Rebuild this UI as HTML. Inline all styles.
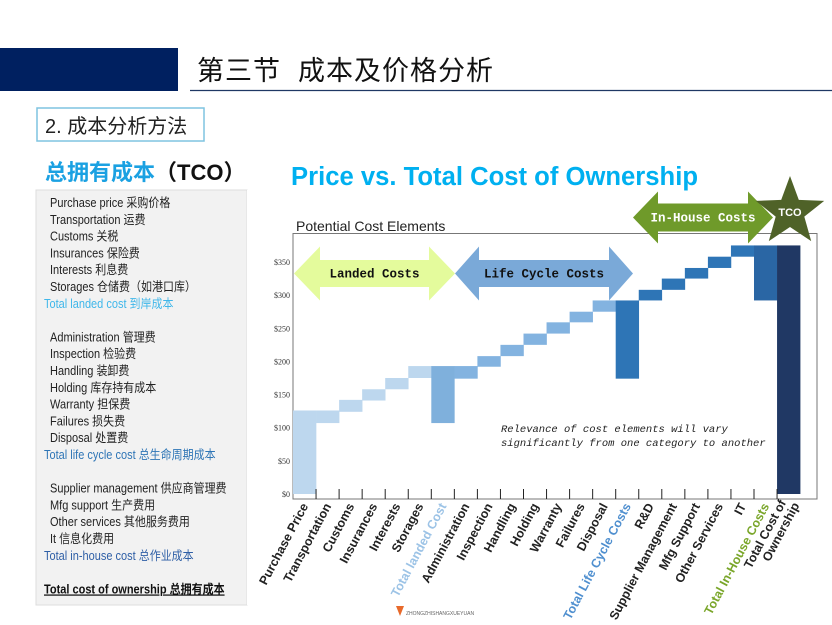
<!DOCTYPE html>
<html><head><meta charset="utf-8">
<style>
html,body{margin:0;padding:0;background:#fff;width:832px;height:625px;overflow:hidden}
svg{display:block}
.cn{font-family:"Liberation Sans","Noto Sans CJK SC",sans-serif}
.nar{font-family:"Liberation Sans Narrow","Liberation Sans","Noto Sans CJK SC",sans-serif}
.mono{font-family:"Liberation Mono",monospace}
</style></head>
<body>
<svg id="page" width="832" height="625" viewBox="0 0 832 625" xmlns="http://www.w3.org/2000/svg">
  <rect x="0" y="48" width="178" height="43" fill="#002060"/>
  <text class="cn" x="197" y="80" font-size="27" fill="#111" textLength="296" lengthAdjust="spacing" xml:space="preserve">第三节  成本及价格分析</text>
  <line x1="190" y1="90.5" x2="832" y2="90.5" stroke="#1f3864" stroke-width="1.2"/>
  <rect x="37" y="108" width="167" height="33" fill="#fff" stroke="#7fc4e0" stroke-width="1.5"/>
  <text class="cn" x="45" y="133" font-size="20" fill="#222">2. 成本分析方法</text>
  <text class="cn" x="45" y="180" font-size="22" font-weight="bold" fill="#1ba1e2">总拥有成本<tspan fill="#111">（TCO）</tspan></text>
  <rect x="36" y="190" width="211" height="415" fill="#f2f2f2" stroke="#ddd"/>
  <g id="list" class="nar" font-size="12.5"></g>
  <rect x="247" y="190" width="585" height="415" fill="#fff"/>
  <text class="cn" x="291" y="185" font-size="25.5" font-weight="bold" fill="#00b0f0" textLength="407" lengthAdjust="spacingAndGlyphs">Price vs. Total Cost of Ownership</text>
  <text class="cn" x="296" y="231" font-size="14" fill="#222">Potential Cost Elements</text>
  <rect x="293" y="233.5" width="524" height="265.5" fill="#fff" stroke="#777" stroke-width="1"/>
  <g id="bars"></g>
  <g id="yaxis"></g>
  <g id="xaxis"></g>
  <g id="overlay"></g>
  <text class="mono" font-style="italic" font-size="10.5" fill="#222"><tspan x="501" y="432">Relevance of cost elements will vary</tspan><tspan x="501" y="446">significantly from one category to another</tspan></text>
  <text class="cn" x="406" y="615" font-size="5" fill="#666">ZHONGZHISHANGXUEYUAN</text>
  <path d="M396 606 L404 606 L400 616 Z" fill="#e86a2b"/>
</svg>
<script>
const categories=["Purchase Price","Transportation","Customs","Insurances","Interests","Storages","Total landed Cost","Administration","Inspection","Handling","Holding","Warranty","Failures","Disposal","Total Life Cycle Costs","R&D","Supplier Management","Mfg Support","Other Services","IT","Total In-House Costs","Total Cost of Ownership"];
const lowValues=[0,107,124,141,158,175,107,174,192,208,225,242,259,275,174,292,308,325,341,358,292,0];
const highValues=[126,126,142,158,175,193,193,193,208,225,242,259,275,292,292,308,325,341,358,375,375,375];
const yTicks=[0,50,100,150,200,250,300,350];
const yTickLabels=["$0","$50","$100","$150","$200","$250","$300","$350"];
const listItems=[["Purchase price 采购价格","#222",1],["Transportation  运费","#222",1],["Customs 关税","#222",1],["Insurances 保险费","#222",1],["Interests 利息费","#222",1],["Storages 仓储费（如港口库）","#222",1],["Total landed cost 到岸成本","#3fb7ea",0],["","",0],["Administration 管理费","#222",1],["Inspection 检验费","#222",1],["Handling 装卸费","#222",1],["Holding 库存持有成本","#222",1],["Warranty 担保费","#222",1],["Failures  损失费","#222",1],["Disposal  处置费","#222",1],["Total life cycle cost 总生命周期成本","#2e75b6",0],["","",0],["Supplier management 供应商管理费","#222",1],["Mfg support 生产费用","#222",1],["Other services 其他服务费用","#222",1],["It 信息化费用","#222",1],["Total in-house cost 总作业成本","#2e5fa6",0],["","",0],["Total cost of ownership 总拥有成本","#111",0]];
const NS="http://www.w3.org/2000/svg";
function mk(t,a,p){const e=document.createElementNS(NS,t);for(const k in a)e.setAttribute(k,a[k]);p.appendChild(e);return e;}
const X0=293,CW=23.05,Y0=494,PPD=232/350;
const xs=i=>X0+i*CW;
const ys=v=>Y0-v*PPD;
function barColor(i){
  if(i===21)return "#203864";
  if(i===20)return "#2a66a4";
  if(i===14)return "#2e75b6";
  if(i===6)return "#7fb0dc";
  if(i>=15)return "#2e75b6";
  if(i>=7)return "#83b3e0";
  return "#bdd7ee";
}
const bars=document.getElementById('bars');
categories.forEach((c,i)=>{
  const r=mk('rect',{x:xs(i),y:ys(highValues[i]),width:CW+0.3,height:ys(lowValues[i])-ys(highValues[i]),fill:barColor(i)},bars);
  
  
});
const ya=document.getElementById('yaxis');
yTicks.forEach((t,i)=>{
  const tx=mk('text',{x:290,y:ys(t)+3,'font-size':8,'text-anchor':'end',fill:'#333','font-family':'Liberation Serif, serif'},ya);
  tx.textContent=yTickLabels[i];
  
  
});
const xa=document.getElementById('xaxis');
categories.forEach((c,i)=>{
  if(i>0){const l=mk('line',{x1:xs(i),x2:xs(i),y1:489,y2:499,stroke:'#222','stroke-width':1},xa);
    
    }
  let col='#222';
  if(i===6)col='#9cc3e6';if(i===14)col='#4f8fcf';if(i===20)col='#7aa62a';
  const cx=xs(i)+CW/2+4, cy=506;
  const tx=mk('text',{x:cx,y:cy,'font-size':12.5,'font-weight':'bold','text-anchor':'end',fill:col,class:'nar',transform:'rotate(-62 '+cx+' '+cy+')'},xa);
  if(i===21){tx.innerHTML='<tspan x="'+cx+'" dy="-7">Total Cost of</tspan><tspan x="'+(cx+4)+'" dy="13">Ownership</tspan>';}
  else tx.textContent=c;
  
  
});
const ov=document.getElementById('overlay');
function dblArrow(x1,x2,yc,hh,sh,hw,fill,name,label,tcol){
  const d=`M${x1} ${yc} L${x1+hw} ${yc-hh} L${x1+hw} ${yc-sh} L${x2-hw} ${yc-sh} L${x2-hw} ${yc-hh} L${x2} ${yc} L${x2-hw} ${yc+hh} L${x2-hw} ${yc+sh} L${x1+hw} ${yc+sh} L${x1+hw} ${yc+hh} Z`;
  const p=mk('path',{d:d,fill:fill},ov);
  
  
  const t=mk('text',{x:(x1+x2)/2,y:yc+4,'font-size':12.5,'font-weight':'bold','text-anchor':'middle',fill:tcol,class:'mono'},ov);
  t.textContent=label;
  
  
}
dblArrow(294,455,273.5,27,13.5,26,'#e4fb9c','landed-costs-arrow','Landed Costs','#111');
dblArrow(455,633,273.5,27,13.5,24,'#7aa9d8','life-cycle-costs-arrow','Life Cycle Costs','#111');
dblArrow(633,773,217.5,26,14,25,'#6f9a2a','in-house-costs-arrow','In-House Costs','#fff');
(function(){
  const cx=790,cy=212,R=36,r=15;let pts=[];
  for(let k=0;k<10;k++){const a=-Math.PI/2+k*Math.PI/5,rr=k%2?r:R;pts.push((cx+rr*Math.cos(a)).toFixed(1)+','+(cy+rr*Math.sin(a)).toFixed(1));}
  const s=mk('polygon',{points:pts.join(' '),fill:'#4f6228'},ov);
  
  
  const t=mk('text',{x:cx,y:cy+4,'font-size':11,'font-weight':'bold','text-anchor':'middle',fill:'#fff',class:'nar'},ov);
  t.textContent='TCO';
  
  
})();
const lg=document.getElementById('list');
listItems.forEach((it,i)=>{
  if(!it[0])return;
  const x=it[2]?50:44;
  const t=mk('text',{x:0,y:207+i*16.8,fill:it[1],transform:'translate('+x+' 0) scale(0.88 1)'},lg);
  t.textContent=it[0];
  if(i===23){t.setAttribute('text-decoration','underline');t.setAttribute('font-weight','bold');}
  
  
});
</script>
</body></html>
